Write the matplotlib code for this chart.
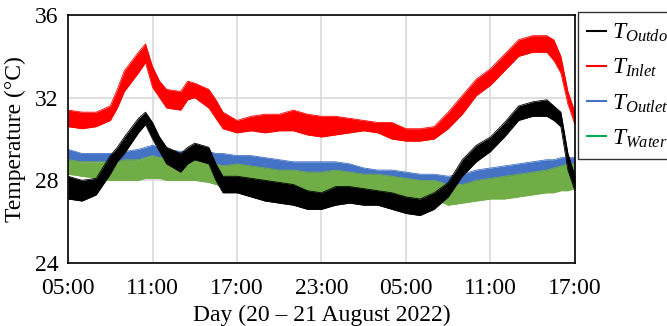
import matplotlib
matplotlib.use("Agg")
import matplotlib.pyplot as plt
from matplotlib.lines import Line2D

plt.rcParams["font.family"] = "Liberation Serif"
plt.rcParams["mathtext.fontset"] = "custom"
plt.rcParams["mathtext.it"] = "Liberation Serif:italic"
plt.rcParams["mathtext.rm"] = "Liberation Serif"

# hours after 05:00 on 20 August
hours = [0, 1, 2, 3, 3.5, 4, 5, 5.5, 6, 6.5, 7, 8, 8.5, 9, 10, 10.5, 11, 12, 13, 14,
         15, 16, 17, 18, 19, 20, 21, 22, 23, 24, 25, 26, 27, 28, 29, 30, 31, 32, 33,
         34, 34.5, 35, 35.5, 36]

# band (low / high)
inlet_low = [30.6, 30.5, 30.6, 30.9, 31.5, 32.3, 33.2, 33.7, 32.5, 32.0, 31.5, 31.4, 31.9,
             32.0, 31.5, 31.0, 30.5, 30.3, 30.4, 30.3, 30.4, 30.4, 30.2, 30.1, 30.2, 30.3,
             30.4, 30.3, 30.0, 29.9, 29.9, 30.0, 30.5, 31.2, 32.1, 32.6, 33.3, 34.0, 34.2,
             34.2, 33.8, 33.2, 31.7, 30.7]
inlet_high = [31.4, 31.3, 31.3, 31.6, 32.4, 33.3, 34.2, 34.6, 33.5, 32.8, 32.4, 32.3, 32.8,
              32.7, 32.4, 31.9, 31.3, 30.9, 31.1, 31.2, 31.2, 31.4, 31.2, 31.1, 31.1, 31.0,
              30.9, 30.8, 30.8, 30.5, 30.5, 30.6, 31.3, 32.1, 32.9, 33.4, 34.1, 34.8, 35.0,
              35.0, 34.8, 34.0, 32.3, 31.3]

outdoor_low = [27.1, 27.0, 27.3, 28.3, 28.9, 29.3, 30.3, 30.7, 30.0, 29.4, 28.8, 28.4, 28.8,
               29.0, 28.8, 28.0, 27.4, 27.4, 27.2, 27.0, 26.9, 26.8, 26.6, 26.6, 26.8, 26.9,
               26.8, 26.8, 26.6, 26.4, 26.3, 26.6, 27.2, 28.2, 28.9, 29.4, 30.1, 30.9, 31.1,
               31.1, 30.9, 30.6, 28.5, 27.5]
outdoor_high = [28.2, 28.0, 28.1, 29.2, 29.6, 30.1, 31.0, 31.3, 30.8, 30.1, 29.6, 29.3, 29.6,
                29.8, 29.6, 28.8, 28.2, 28.2, 28.1, 28.0, 27.9, 27.8, 27.5, 27.4, 27.7, 27.7,
                27.6, 27.5, 27.4, 27.2, 27.1, 27.4, 27.9, 29.0, 29.7, 30.1, 30.8, 31.6, 31.8,
                31.9, 31.6, 31.3, 29.3, 28.2]

outlet_low = [28.9, 28.9, 28.9, 28.9, 28.9, 28.9, 29.0, 29.1, 29.2, 29.1, 29.0, 28.9, 28.9,
              28.9, 28.9, 28.8, 28.7, 28.7, 28.6, 28.5, 28.4, 28.4, 28.3, 28.3, 28.3, 28.2,
              28.0, 27.9, 27.9, 27.8, 27.8, 27.8, 27.7, 27.8, 27.9, 28.0, 28.1, 28.2, 28.3,
              28.4, 28.4, 28.5, 28.5, 28.5]
outlet_high = [29.5, 29.3, 29.3, 29.3, 29.3, 29.4, 29.5, 29.6, 29.7, 29.6, 29.5, 29.4, 29.4,
               29.4, 29.4, 29.3, 29.3, 29.2, 29.2, 29.1, 29.0, 28.9, 28.9, 28.9, 28.9, 28.8,
               28.6, 28.5, 28.5, 28.4, 28.3, 28.3, 28.2, 28.3, 28.5, 28.6, 28.7, 28.8, 28.9,
               29.0, 29.0, 29.1, 29.1, 29.1]

water_low = [28.3, 28.2, 28.1, 28.0, 28.0, 28.0, 28.0, 28.1, 28.1, 28.1, 28.0, 28.0, 28.0,
             28.0, 27.9, 27.8, 27.7, 27.8, 27.7, 27.6, 27.5, 27.5, 27.4, 27.4, 27.5, 27.5,
             27.4, 27.4, 27.3, 27.2, 27.1, 27.1, 26.8, 26.9, 27.0, 27.1, 27.1, 27.2, 27.3,
             27.4, 27.4, 27.5, 27.5, 27.6]
water_high = [29.0, 28.9, 28.9, 28.9, 28.9, 29.0, 29.0, 29.1, 29.2, 29.1, 29.1, 29.0, 29.0,
              29.0, 28.9, 28.8, 28.7, 28.8, 28.7, 28.6, 28.5, 28.5, 28.4, 28.4, 28.5, 28.4,
              28.3, 28.3, 28.2, 28.1, 28.0, 28.0, 27.8, 27.8, 28.0, 28.1, 28.2, 28.3, 28.4,
              28.5, 28.6, 28.7, 28.8, 28.8]

tick_hours = [0, 6, 12, 18, 24, 30, 36]
tick_labels = ["05:00", "11:00", "17:00", "23:00", "05:00", "11:00", "17:00"]
y_ticks = [24, 28, 32, 36]

fig = plt.figure(figsize=(6.67, 3.26), dpi=100)
ax = fig.add_axes([0.102, 0.193, 0.760, 0.761])

series = [
    (inlet_low, inlet_high, "#FF0000"),
    (outlet_low, outlet_high, "#4472C4"),
    (water_low, water_high, "#70AD47"),
    (outdoor_low, outdoor_high, "#000000"),
]
for low, high, col in series:
    ax.fill_between(hours, low, high, color=col, lw=0, zorder=3)
    ax.plot(hours, low, color=col, lw=0.6, zorder=3)
    ax.plot(hours, high, color=col, lw=0.6, zorder=3)

ax.set_xlim(0, 36)
ax.set_ylim(24, 36)
ax.set_xticks(tick_hours)
ax.set_xticklabels(tick_labels)
ax.set_yticks(y_ticks)
ax.tick_params(axis="x", length=0, labelsize=17, pad=11)
ax.tick_params(axis="y", length=0, labelsize=17, pad=7)
ax.grid(True, color="#D9D9D9", lw=1.2, zorder=0)
for sp in ax.spines.values():
    sp.set_linewidth(1.2)
    sp.set_zorder(5)
ax.set_ylabel("Temperature (\u00b0C)", fontsize=17, labelpad=6)
ax.set_xlabel("Day (20 \u2013 21 August 2022)", fontsize=17, labelpad=4)

handles = [
    Line2D([], [], color="#000000", lw=1.5),
    Line2D([], [], color="#FF0000", lw=1.5),
    Line2D([], [], color="#4472C4", lw=1.5),
    Line2D([], [], color="#00B050", lw=1.5),
]
labels = [r"$T_{Outdoor}$", r"$T_{Inlet}$", r"$T_{Outlet}$", r"$T_{Water}$"]
leg = fig.legend(handles, labels, loc="upper left", bbox_to_anchor=(0.866, 0.962),
                 fontsize=17, frameon=True, fancybox=False, handlelength=0.8,
                 handletextpad=0.25, labelspacing=0.55, borderpad=0.4, borderaxespad=0)
leg.get_frame().set_edgecolor("black")
leg.get_frame().set_linewidth(1.0)

fig.savefig("out.png", dpi=100)
